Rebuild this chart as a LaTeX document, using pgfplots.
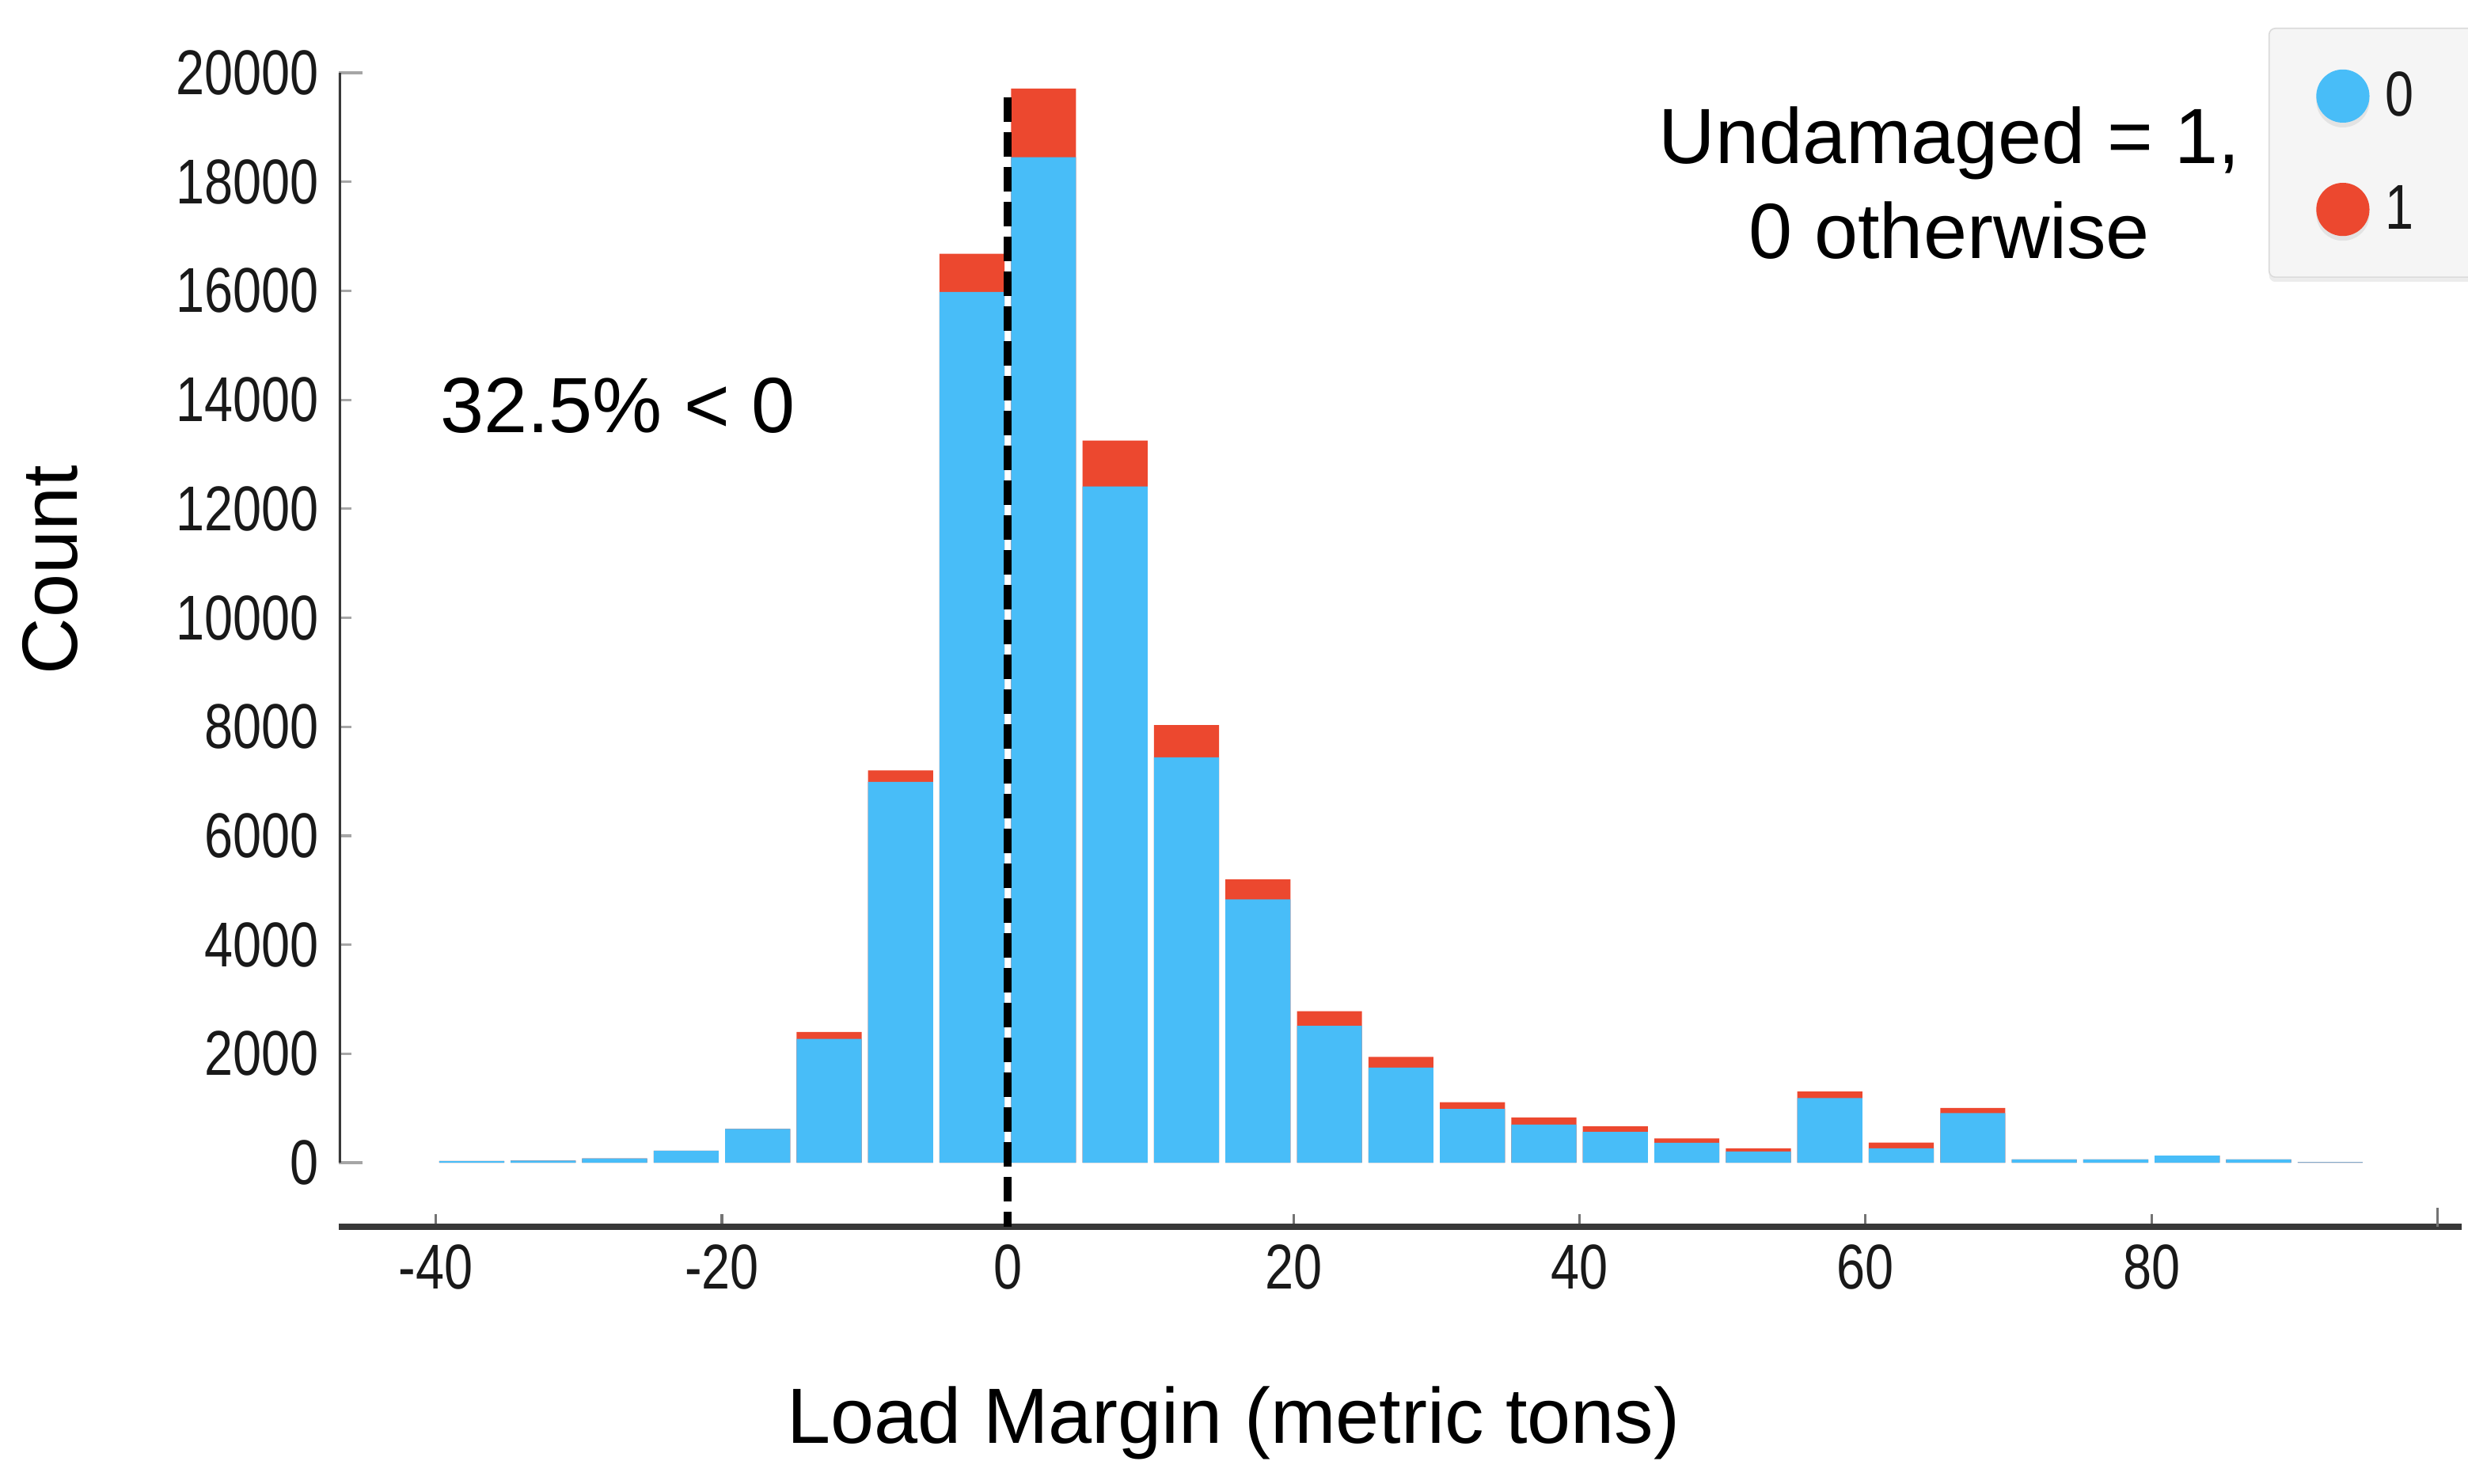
\documentclass[border=0pt]{standalone}
\usepackage{fontspec}
\setmainfont{Liberation Sans}
\newfontfamily\tickfamily[FakeStretch=0.81]{Liberation Sans}
\usepackage{pgfplots}
\pgfplotsset{compat=1.18}
\usepackage{pgfplotstable}
\usetikzlibrary{shadows}
\definecolor{barblue}{RGB}{72,189,248}
\definecolor{barred}{RGB}{236,72,47}
\newcommand\tfont{\tickfamily\fontsize{20pt}{24pt}\selectfont}
\newcommand\bfont{\fontsize{24.75pt}{30pt}\selectfont}

\pgfplotstableread{
x     blue   total
-37.5 30     30
-32.5 40     40
-27.5 80     80
-22.5 220    220
-17.5 620    620
-12.5 2270   2400
-7.5  6990   7200
-2.5  15980  16680
2.5   18450  19710
7.5   12410  13250
12.5  7440   8030
17.5  4830   5200
22.5  2510   2780
27.5  1745   1940
32.5  985    1110
37.5  700    830
42.5  565    665
47.5  365    445
52.5  205    265
57.5  1185   1305
62.5  265    370
67.5  910    1005
72.5  60     60
77.5  60     60
82.5  130    130
87.5  60     60
92.5  10     10
}\datatable

\begin{document}
\begin{tikzpicture}
\begin{axis}[
  at={(0,0)}, anchor=south west,
  scale only axis, width=670.5pt, height=364.5pt,
  xmin=-46.8, xmax=101.7, ymin=-1176, ymax=20000,
  axis x line*=bottom, axis y line*=left,
  x axis line style={-, line width=2pt, black!78},
  y axis line style={draw=none},
  tick align=inside,
  major tick length=4pt,
  scaled y ticks=false, scaled x ticks=false,
  xtick={-40,-20,0,20,40,60,80},
  xticklabels={-40,-20,0,20,40,60,80},
  ytick={0,2000,...,20000},
  yticklabels={0,2000,4000,6000,8000,10000,12000,14000,16000,18000,20000},
  tick label style={font=\tfont, text=black!90},
  xticklabel style={yshift=-2.1pt},
  yticklabel style={xshift=-2.8pt},
  xtick style={black!55, line width=0.8pt},
  ytick style={black!35, line width=0.8pt},
  extra y ticks={0,20000},
  extra y tick labels={},
  extra y tick style={major tick length=7.5pt, tick style={line width=1.5pt, black!78}},
  extra x ticks={100},
  extra x tick labels={},
  extra x tick style={major tick length=6pt, tick style={line width=1pt, black!78}},
  xlabel={Load Margin (metric tons)},
  ylabel={Count},
  x label style={font=\bfont, at={(axis description cs:0.4215,0)}, anchor=base, yshift=-68.35pt, inner sep=0pt},
  y label style={font=\bfont, at={(axis description cs:-0.1234,0.5693)}, anchor=base, rotate=0, inner sep=0pt},
  legend style={at={(axis description cs:0.909,1.0391)}, anchor=north west,
    draw=black!14, fill=black!4, rounded corners=2pt,
    inner xsep=14.9pt, inner ysep=13pt, font=\tfont, text=black!90,
    row sep=19pt, column sep=5pt, nodes={inner sep=0pt},
    drop shadow={shadow xshift=0pt, shadow yshift=-1.5pt, opacity=0.15}},
  legend cell align=left,
  reverse legend,
]
\addplot[ybar, bar width=4.55, bar shift=0pt, fill=barred, draw=none,
  legend image code/.code={\fill[barred] (8.4pt,0pt) circle[radius=8.4pt];}]
  table[x=x, y=total]{\datatable};
\addlegendentry{1\hspace*{12pt}}
\addplot[ybar, bar width=4.55, bar shift=0pt, fill=barblue, draw=none,
  legend image code/.code={\fill[barblue] (8.4pt,0pt) circle[radius=8.4pt];}]
  table[x=x, y=blue]{\datatable};
\addlegendentry{0\hspace*{12pt}}
\addplot[black, line width=2.6pt, dash pattern=on 7.6pt off 3.4pt, forget plot]
  coordinates {(0,19544) (0,-1176)};
\draw[black!78, line width=1.5pt] (axis cs:-46.8,0) -- (axis cs:-46.8,20000);
\node[anchor=base west, inner sep=0pt, font=\bfont] at (axis cs:-39.75,13394) {32.5\% < 0};
\node[anchor=base, inner sep=0pt, font=\bfont] at (axis cs:65.88,18336) {Undamaged = 1,};
\node[anchor=base, inner sep=0pt, font=\bfont] at (axis cs:65.88,16593) {0 otherwise};
\end{axis}
\pgfresetboundingbox
\path[use as bounding box] (-107pt,-81.25pt) rectangle (672.5pt,387.5pt);
\end{tikzpicture}
\end{document}
